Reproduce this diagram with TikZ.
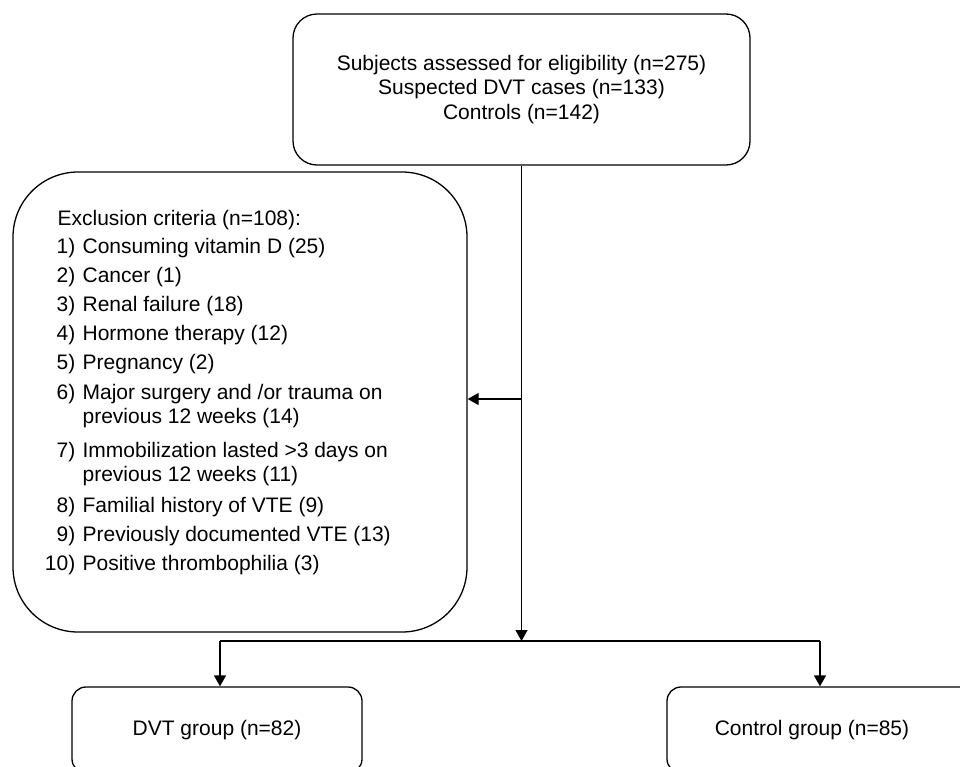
\documentclass[tikz,border=0pt]{standalone}
\usepackage{fontspec}
\setmainfont{Liberation Sans}
\usetikzlibrary{arrows.meta}
\begin{document}
\begin{tikzpicture}[x=1pt,y=-1pt,
  font=\fontsize{21}{24.5}\selectfont,
  line width=1.3pt,
  arr/.style={-{Triangle[length=11pt,width=12pt]}},
  boxbase/.style={draw, inner sep=0pt, align=center},
  txt/.style={inner sep=0pt}]
\useasboundingbox (0,0) rectangle (960,766);
\clip (0,0) rectangle (960,766);
\fill[white] (0,0) rectangle (960,766);

% top box
\node[boxbase, rounded corners=24pt, minimum width=457pt, minimum height=151pt]
  (subj) at (521.5,89.5) {Subjects assessed for eligibility (n=275)\\Suspected DVT cases (n=133)\\Controls (n=142)};

% exclusion box
\node[boxbase, rounded corners=65pt, minimum width=454pt, minimum height=460pt]
  (excl) at (240,402) {};

\node[txt, anchor=base west] (e0) at (57,225.5) {Exclusion criteria (n=108):};
\node[txt, anchor=base east] (n1) at (76,253.5) {1)};
\node[txt, anchor=base west] (t1) at (82,253.5) {Consuming vitamin D (25)};
\node[txt, anchor=base east] (n2) at (76,282.5) {2)};
\node[txt, anchor=base west] (t2) at (82,282.5) {Cancer (1)};
\node[txt, anchor=base east] (n3) at (76,311.5) {3)};
\node[txt, anchor=base west] (t3) at (82,311.5) {Renal failure (18)};
\node[txt, anchor=base east] (n4) at (76,340.5) {4)};
\node[txt, anchor=base west] (t4) at (82,340.5) {Hormone therapy (12)};
\node[txt, anchor=base east] (n5) at (76,369.5) {5)};
\node[txt, anchor=base west] (t5) at (82,369.5) {Pregnancy (2)};
\node[txt, anchor=base east] (n6) at (76,399.5) {6)};
\node[txt, anchor=base west] (t6) at (82,399.5) {Major surgery and /or trauma on};
\node[txt, anchor=base west] (t6b) at (82,423.5) {previous 12 weeks (14)};
\node[txt, anchor=base east] (n7) at (76,457.5) {7)};
\node[txt, anchor=base west] (t7) at (82,457.5) {Immobilization lasted >3 days on};
\node[txt, anchor=base west] (t7b) at (82,481.5) {previous 12 weeks (11)};
\node[txt, anchor=base east] (n8) at (76,512.5) {8)};
\node[txt, anchor=base west] (t8) at (82,512.5) {Familial history of VTE (9)};
\node[txt, anchor=base east] (n9) at (76,541.5) {9)};
\node[txt, anchor=base west] (t9) at (82,541.5) {Previously documented VTE (13)};
\node[txt, anchor=base east] (n10) at (76,570.5) {10)};
\node[txt, anchor=base west] (t10) at (82,570.5) {Positive thrombophilia (3)};

% bottom boxes
\node[boxbase, rounded corners=14pt, minimum width=290pt, minimum height=86pt]
  (dvt) at (217,730) {DVT group (n=82)};
\node[boxbase, rounded corners=14pt, minimum width=330pt, minimum height=86pt]
  (ctrl) at (832,730) {};
\node[txt] (ctrltxt) at (812,730) {Control group (n=85)};

% connectors
\coordinate (j) at (521.5,641);
\coordinate (mid) at (521.5,399);
\coordinate (bl) at (220,641);
\coordinate (br) at (820,641);

\draw[arr] (subj.south) -- (j);
\draw[arr] (mid) -- (excl.east |- mid);
\draw (bl) -- (br);
\draw[arr] (bl) -- (bl |- dvt.north);
\draw[arr] (br) -- (br |- ctrl.north);
\end{tikzpicture}
\end{document}
